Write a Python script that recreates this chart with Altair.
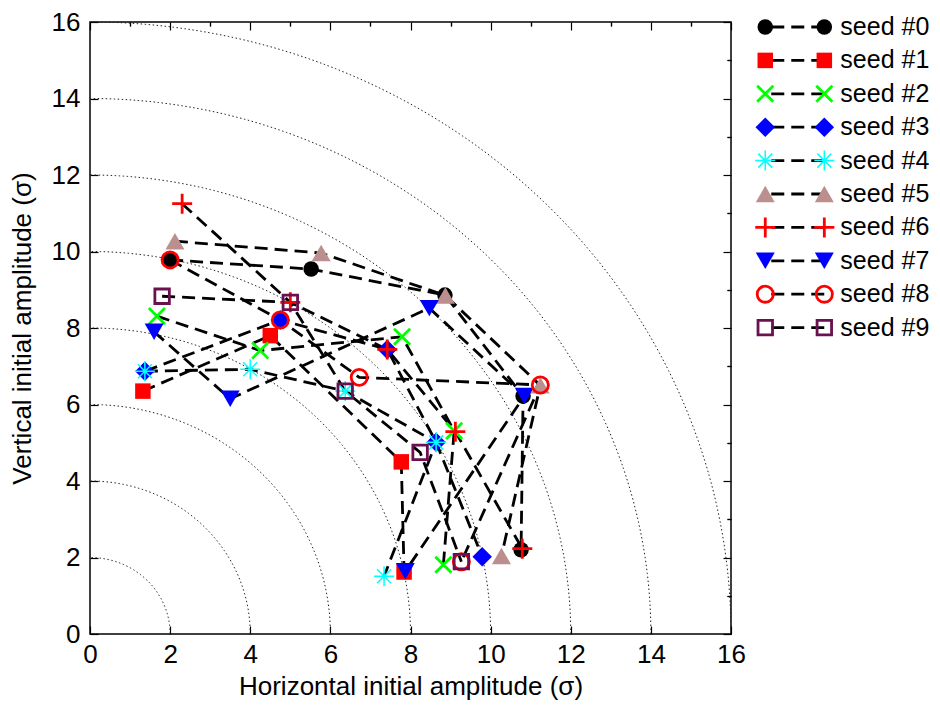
import altair as alt
import numpy as np
import pandas as pd

# ---------------- data ----------------
seed_names = ["seed #0", "seed #1", "seed #2", "seed #3", "seed #4",
              "seed #5", "seed #6", "seed #7", "seed #8", "seed #9"]

seed0_x = [2.00, 5.52, 8.86, 10.81, 10.76]
seed0_y = [9.78, 9.54, 8.86, 6.22, 2.20]
seed1_x = [1.32, 4.50, 7.77, 7.84]
seed1_y = [6.35, 7.80, 4.50, 1.62]
seed2_x = [1.67, 4.25, 7.79, 9.09, 8.82]
seed2_y = [8.31, 7.41, 7.77, 5.31, 1.81]
seed3_x = [1.37, 4.75, 7.42, 8.64, 9.79]
seed3_y = [6.87, 8.21, 7.44, 5.01, 2.02]
seed4_x = [1.37, 4.00, 6.37, 8.64, 7.34]
seed4_y = [6.87, 6.92, 6.35, 5.01, 1.51]
seed5_x = [2.12, 5.77, 8.87, 11.24, 10.27]
seed5_y = [10.27, 9.96, 8.85, 6.50, 2.04]
seed6_x = [2.30, 5.00, 7.42, 9.12, 10.79]
seed6_y = [11.25, 8.67, 7.44, 5.29, 2.23]
seed7_x = [1.60, 3.50, 8.47, 10.84, 7.87]
seed7_y = [7.90, 6.15, 8.52, 6.22, 1.64]
seed8_x = [2.00, 4.75, 6.72, 11.24, 9.27]
seed8_y = [9.78, 8.21, 6.71, 6.51, 1.89]
seed9_x = [1.80, 5.00, 6.37, 8.24, 9.27]
seed9_y = [8.83, 8.67, 6.35, 4.75, 1.89]

xs = [seed0_x, seed1_x, seed2_x, seed3_x, seed4_x, seed5_x, seed6_x, seed7_x, seed8_x, seed9_x]
ys = [seed0_y, seed1_y, seed2_y, seed3_y, seed4_y, seed5_y, seed6_y, seed7_y, seed8_y, seed9_y]

circle_radii = [2, 4, 6, 8, 10, 12, 14, 16]
x_major = [0, 2, 4, 6, 8, 10, 12, 14, 16]
x_minor = [1, 3, 5, 7, 9, 11, 13, 15]

# ---------------- tables ----------------
rows = []
for name, sx, sy in zip(seed_names, xs, ys):
    for k, (a, b) in enumerate(zip(sx, sy)):
        rows.append({"seed": name, "k": k, "x": a, "y": b})
pts = pd.DataFrame(rows)

crow = []
ang = np.linspace(0, np.pi / 2, 181)
for r in circle_radii:
    for k, t in enumerate(ang):
        crow.append({"r": r, "k": k, "cx": r * np.cos(t), "cy": r * np.sin(t)})
circ = pd.DataFrame(crow)

FONT = "Liberation Sans"
FS = 26
LFS = 25
W = 641
H = 612

ASTER = "M-1,0L1,0M0,-1L0,1M-0.7,-0.7L0.7,0.7M-0.7,0.7L0.7,-0.7"
XSHAPE = "M-1,-1L1,1M-1,1L1,-1"
PLUS = "M-1,0L1,0M0,-1L0,1"

styles = [
    dict(shape="circle", filled=True, color="#000000", size=240, strokeWidth=0),
    dict(shape="square", filled=True, color="#ff0000", size=240, strokeWidth=0),
    dict(shape=XSHAPE, filled=False, color="#00ff00", size=260, strokeWidth=2.8),
    dict(shape="diamond", filled=True, color="#0000ff", size=380, strokeWidth=0),
    dict(shape=ASTER, filled=False, color="#00ffff", size=400, strokeWidth=1.5),
    dict(shape="triangle-up", filled=True, color="#bc8f8f", size=360, strokeWidth=0),
    dict(shape=PLUS, filled=False, color="#ff0000", size=400, strokeWidth=2.8),
    dict(shape="triangle-down", filled=True, color="#0000ff", size=360, strokeWidth=0),
    dict(shape="circle", filled=False, color="#ff0000", size=260, strokeWidth=2.8),
    dict(shape="square", filled=False, color="#6b1050", size=210, strokeWidth=2.8),
]

xscale = alt.Scale(domain=[0, 16], nice=False, zero=False)
yscale = alt.Scale(domain=[0, 16], nice=False, zero=False)

common_axis = dict(domain=False, grid=False, tickColor="black", tickWidth=1.2,
                   labelFont=FONT, labelFontSize=FS, labelColor="black",
                   labelFlush=False, labelOverlap=False,
                   titleFont=FONT, titleFontSize=FS, titleColor="black",
                   titleFontWeight="normal")
tick_only = dict(labels=False, title=None, domain=False, grid=False,
                 tickColor="black", tickWidth=1.2, minExtent=0)

ax_x_main = alt.Axis(values=x_major, tickSize=8, offset=-8, labelPadding=7,
                     title="Horizontal initial amplitude (σ)", titlePadding=6,
                     format="d", **common_axis)
ax_y_main = alt.Axis(values=x_major, tickSize=8, offset=-8, labelPadding=10,
                     title="Vertical initial amplitude (σ)", titlePadding=16,
                     format="d", **common_axis)
ax_x_minor = alt.Axis(values=x_minor, tickSize=4, offset=-4, **tick_only)
ax_y_minor = alt.Axis(values=x_minor, tickSize=4, offset=-4, **tick_only)
ax_x_top = alt.Axis(orient="top", values=x_major, tickSize=8, offset=-8, **tick_only)
ax_y_right = alt.Axis(orient="right", values=x_major, tickSize=8, offset=-8, **tick_only)
ax_x_top_m = alt.Axis(orient="top", values=x_minor, tickSize=4, offset=-4, **tick_only)
ax_y_right_m = alt.Axis(orient="right", values=x_minor, tickSize=4, offset=-4, **tick_only)

circles = alt.Chart(circ).mark_line(
    color="#222222", strokeWidth=1, strokeDash=[1.5, 2.5], clip=True
).encode(
    x=alt.X("cx:Q", scale=xscale, axis=ax_x_main),
    y=alt.Y("cy:Q", scale=yscale, axis=ax_y_main),
    detail="r:N",
    order="k:Q",
)

paths = alt.Chart(pts).mark_line(
    color="black", strokeWidth=2.8, strokeDash=[13, 7]
).encode(
    x=alt.X("x:Q", scale=xscale, axis=ax_x_minor),
    y=alt.Y("y:Q", scale=yscale, axis=ax_y_minor),
    detail="seed:N",
    order="k:Q",
)

point_layers = []
extra_axes = [(ax_x_top, ax_y_right), (ax_x_top_m, ax_y_right_m)]
for i, name in enumerate(seed_names):
    st = styles[i]
    if i < 2:
        axx, axy = extra_axes[i]
    else:
        axx, axy = None, None
    lay = alt.Chart(pts).transform_filter(
        alt.datum.seed == name
    ).mark_point(opacity=1, **st).encode(
        x=alt.X("x:Q", scale=xscale, axis=axx),
        y=alt.Y("y:Q", scale=yscale, axis=axy),
    )
    point_layers.append(lay)

main = alt.layer(circles, paths, *point_layers).resolve_axis(
    x="independent", y="independent"
).properties(width=W, height=H,
             view=alt.ViewBackground(stroke="black", strokeWidth=1.5))

# ---------------- legend panel ----------------
leg_rows = []
for i, name in enumerate(seed_names):
    for xv in (0, 1):
        leg_rows.append({"seed": name, "i": i, "lx": xv})
leg = pd.DataFrame(leg_rows)

# first entry ~5px below the plot top, entries 33.4px apart, markers 65px apart
lx_scale = alt.Scale(domain=[-0.14, 2.40], nice=False, zero=False)
ly_top = -5.0 / 33.4
ly_scale = alt.Scale(domain=[ly_top, ly_top + H / 33.4], nice=False, zero=False, reverse=True)

leg_lines = alt.Chart(leg).mark_line(
    color="black", strokeWidth=2.8, strokeDash=[13, 7], strokeDashOffset=-6
).encode(
    x=alt.X("lx:Q", scale=lx_scale, axis=None),
    y=alt.Y("i:Q", scale=ly_scale, axis=None),
    detail="seed:N",
)
leg_layers = [leg_lines]
for i, name in enumerate(seed_names):
    st = styles[i]
    leg_layers.append(
        alt.Chart(leg).transform_filter(alt.datum.seed == name).mark_point(opacity=1, **st).encode(
            x=alt.X("lx:Q", scale=lx_scale, axis=None),
            y=alt.Y("i:Q", scale=ly_scale, axis=None),
        )
    )
leg_text = alt.Chart(leg).transform_filter(alt.datum.lx == 1).mark_text(
    align="left", baseline="middle", dx=16, font=FONT, fontSize=LFS, color="black"
).encode(
    x=alt.X("lx:Q", scale=lx_scale, axis=None),
    y=alt.Y("i:Q", scale=ly_scale, axis=None),
    text="seed:N",
)
leg_layers.append(leg_text)
legend = alt.layer(*leg_layers).properties(
    width=150, height=H, view=alt.ViewBackground(stroke=None)
)

chart = alt.hconcat(main, legend, spacing=2).properties(
    padding={"left": 0, "top": 0, "right": 0, "bottom": 0}, background="white"
)

chart.save("out.html", embed_options={"renderer": "svg", "actions": False})
